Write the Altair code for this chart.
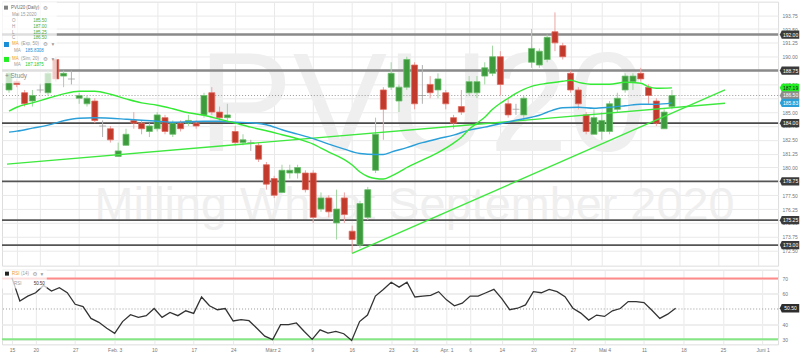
import altair as alt
import pandas as pd
import numpy as np

# ---------------- data ----------------
candle_idx = list(range(-1, 85))  # trading-day index, 0 = Jan 15 2020
opens = [187.0, 187.75, 186.75, 186.0, 187.0, 186.75, 189.75, 188.25, 188.0, 186.25,
         185.75, 186.0, 183.75, 183.5, 181.0, 182.0, 184.25, 184.0, 183.25, 183.5,
         184.5, 183.0, 184.0, 184.0, 184.0, 184.75, 186.75, 185.0, 184.5, 183.25,
         182.25, 182.25, 182.0, 180.25, 179.0, 177.75, 179.5, 179.5, 179.5, 179.5,
         176.25, 177.25, 175.0, 177.25, 174.25, 173.0, 175.5, 179.75, 187.0, 187.25,
         186.0, 187.25, 189.25, 186.5, 187.5, 187.0, 186.75, 184.5, 185.5, 186.75,
         186.75, 188.25, 188.5, 190.0, 185.75, 185.25, 184.75, 189.5, 189.25, 189.75,
         192.25, 191.0, 188.5, 187.0, 184.75, 183.0, 183.25, 183.25, 185.25, 187.0,
         187.75, 188.5, 187.25, 186.0, 183.5, 185.5]
highs = [188.75, 188.0, 187.0, 187.0, 187.5, 188.75, 190.0, 188.75, 188.75, 186.75,
         186.5, 186.25, 184.25, 183.75, 182.25, 183.5, 185.0, 184.25, 184.0, 185.0,
         184.75, 184.25, 184.25, 184.75, 184.25, 186.75, 187.25, 185.5, 185.75, 183.75,
         183.0, 182.5, 182.25, 180.5, 179.25, 180.25, 180.25, 180.25, 179.75, 179.75,
         177.75, 177.5, 178.0, 177.75, 174.75, 177.0, 178.25, 184.5, 187.25, 189.5,
         187.5, 190.0, 189.5, 189.25, 188.25, 188.5, 187.0, 184.75, 187.0, 188.25,
         188.25, 189.5, 191.0, 190.5, 186.25, 185.75, 186.5, 192.5, 190.75, 192.0,
         194.0, 191.25, 188.75, 187.25, 185.0, 185.25, 185.0, 186.0, 186.75, 188.5,
         188.5, 189.0, 187.5, 186.25, 185.25, 187.0]
lows = [186.75, 187.25, 185.5, 185.5, 186.75, 186.5, 187.75, 187.25, 187.5, 185.75,
        185.5, 184.0, 182.75, 182.25, 181.0, 182.0, 183.5, 183.0, 182.75, 183.25,
        183.0, 182.75, 183.25, 183.75, 183.5, 184.5, 184.75, 184.25, 184.25, 182.0,
        182.0, 181.5, 180.5, 178.0, 177.25, 177.75, 179.0, 179.0, 177.75, 175.0,
        176.0, 175.5, 173.5, 175.0, 172.25, 172.75, 175.25, 179.5, 182.5, 187.0,
        185.0, 187.0, 185.25, 185.75, 186.25, 186.25, 185.25, 183.5, 184.75, 186.5,
        186.25, 187.5, 188.25, 186.5, 184.5, 184.75, 184.25, 189.0, 189.0, 189.5,
        190.5, 189.75, 186.75, 185.25, 183.0, 183.0, 182.5, 183.0, 185.0, 186.75,
        187.0, 187.75, 185.75, 183.75, 183.5, 185.25]
closes = [188.5, 187.5, 185.75, 186.5, 187.0, 188.5, 188.0, 188.5, 188.0, 186.5,
          186.25, 184.25, 183.75, 182.5, 181.5, 183.0, 184.0, 183.5, 183.75, 184.75,
          183.25, 184.0, 183.5, 184.25, 183.75, 186.5, 185.0, 184.5, 184.75, 182.25,
          182.5, 182.25, 180.75, 178.5, 177.5, 179.75, 179.75, 180.0, 178.0, 175.5,
          177.25, 176.0, 176.25, 175.75, 173.5, 176.75, 178.0, 183.0, 185.25, 188.5,
          187.25, 189.75, 185.75, 186.5, 186.75, 188.0, 185.75, 184.0, 185.0, 187.75,
          187.75, 189.0, 190.0, 187.5, 184.75, 185.25, 186.25, 190.75, 190.5, 191.75,
          191.25, 190.0, 187.0, 185.75, 183.25, 184.5, 184.25, 185.75, 186.25, 188.25,
          188.25, 188.0, 186.5, 184.0, 185.0, 186.5]

sma_idx = [-1, 0, 2, 4, 6, 8, 10, 12, 14, 16, 18, 20, 22, 24, 26, 28, 30, 32, 34, 36,
           38, 39, 40, 41, 42, 43, 44, 45, 46, 47, 48, 49, 50, 52, 54, 56, 57, 58, 59, 60,
           61, 62, 63, 64, 65, 66, 68, 70, 71, 72, 74, 76, 78, 80, 81, 82, 84]
sma_vals = [185.08, 185.44, 185.84, 186.25, 186.65, 186.88, 186.88, 186.61, 186.20, 185.84,
            185.62, 185.30, 184.94, 184.72, 184.36, 184.00, 183.64, 183.32, 182.96, 182.60,
            182.11, 181.75, 181.39, 181.08, 180.72, 180.22, 179.59, 179.19, 179.01, 178.96,
            179.23, 179.59, 180.00, 180.67, 181.35, 182.20, 182.74, 183.46, 184.00, 184.54,
            185.26, 185.80, 186.25, 186.70, 187.06, 187.33, 187.60, 187.78, 187.87, 187.69,
            187.51, 187.51, 187.69, 187.60, 187.28, 187.15, 187.19]

ema_idx = [-1, 0, 2, 4, 6, 8, 10, 12, 14, 16, 18, 20, 22, 24, 26, 28, 30, 32, 34, 36,
           38, 40, 42, 44, 46, 47, 48, 50, 52, 54, 56, 58, 60, 62, 64, 66, 67, 68, 70, 72,
           74, 76, 78, 80, 82, 84]
ema_vals = [183.19, 183.28, 183.55, 183.82, 184.22, 184.45, 184.49, 184.45, 184.36, 184.27,
            184.18, 184.09, 184.13, 184.18, 184.18, 184.09, 184.04, 183.86, 183.41, 183.01,
            182.60, 182.11, 181.66, 181.26, 181.17, 181.17, 181.39, 181.80, 182.24, 182.60,
            182.92, 183.37, 183.64, 183.95, 184.27, 184.54, 184.72, 184.99, 185.39, 185.44,
            185.35, 185.44, 185.57, 185.71, 185.70, 185.83]

trend1_idx = [-1.26, 90.8]
trend1_vals = [180.31, 185.8]
trend2_idx = [43, 90.8]
trend2_vals = [172.25, 187.0]

levels = [192.00, 188.75, 184.00, 178.75, 175.25, 173.00]
last_close = 186.50
sma_last = 187.19
ema_last = 185.83

rsi_idx = list(range(0, 85))
rsi_vals = [70.5, 55.3, 58.5, 60.7, 65.5, 61.8, 64.0, 60.7, 53.1, 51.6,
            43.8, 41.2, 37.3, 34.0, 41.7, 46.2, 44.5, 45.6, 50.3, 44.5,
            47.7, 45.6, 48.8, 47.1, 57.9, 52.1, 49.5, 50.3, 42.1, 43.0,
            42.3, 37.3, 32.1, 29.8, 39.7, 39.7, 40.8, 35.2, 30.0, 36.3,
            34.1, 35.2, 33.7, 29.3, 41.7, 46.0, 58.5, 62.9, 67.6, 64.4,
            67.6, 57.9, 58.5, 59.0, 61.4, 56.0, 52.1, 53.8, 58.5, 58.5,
            60.7, 62.9, 56.8, 49.5, 50.5, 52.7, 61.4, 60.7, 62.9, 61.4,
            58.1, 50.5, 47.3, 42.7, 46.0, 45.1, 48.8, 50.3, 54.9, 54.9,
            54.2, 49.2, 43.8, 46.6, 50.5]
rsi_last = 50.50

tick_idx = [0, 3, 8, 13, 18, 23, 28, 33, 38, 43, 48, 51, 55, 58, 62, 66, 71, 75, 80, 85, 90, 95]
tick_text = ['15', '20', '27', 'Feb. 3', '10', '17', '24', 'März 2', '9', '16', '23', '26',
             'Apr. 1', '6', '14', '20', '27', 'Mai 4', '11', '18', '25', 'Juni 1']
price_ticks = [172.50, 173.75, 175.00, 176.25, 177.50, 178.75, 180.00, 181.25, 182.50,
               183.75, 185.00, 186.25, 187.50, 188.75, 190.00, 191.25, 192.50, 193.75]
rsi_ticks = [30, 40, 60, 70]

# ---------------- layout / style ----------------
W = 779
H_MAIN = 265
H_RSI = 75
XDOM = [-1.261, 96.97]
FONT = 'Liberation Sans'
GRID = '#e9e9e9'
LBL = '#777777'
AX_FS = 5.0
LG_FS = 4.5
UP, DOWN, FLAT = '#3d9a3d', '#c23a2c', '#9a9a9a'
TAGX = W + 11.5
TAG_SHAPE = 'M-1,0L-0.8,-0.43L1,-0.43L1,0.43L-0.8,0.43Z'

xscale = alt.Scale(domain=XDOM, nice=False, zero=False)
yscale_main = alt.Scale(domain=[171.14, 194.97], nice=False, zero=False)
yscale_rsi = alt.Scale(domain=[26.7, 75.9], nice=False, zero=False)

label_expr = ('[' + ','.join("'%s'" % t for t in tick_text) + '][indexof([' +
              ','.join(str(v) for v in tick_idx) + '], datum.value)]')

ax_x_main = alt.Axis(values=tick_idx, grid=True, gridColor=GRID, labels=False, ticks=False,
                     domain=False, title=None)
ax_x_rsi = alt.Axis(values=tick_idx, grid=True, gridColor=GRID, ticks=False, domain=False,
                    title=None, labelExpr=label_expr, labelFontSize=AX_FS, labelColor=LBL,
                    labelFont=FONT, labelPadding=3, labelOverlap=False, labelFlush=False)
ax_y_main = alt.Axis(orient='right', values=price_ticks, format='.2f', grid=True, gridColor=GRID,
                     ticks=False, domain=False, title=None, labelFontSize=AX_FS, labelColor=LBL,
                     labelFont=FONT, labelPadding=4, labelFlush=False)
ax_y_rsi = alt.Axis(orient='right', values=rsi_ticks, format='d', grid=True, gridColor='#eeeeee',
                    gridWidth=2, ticks=False, domain=False, title=None, labelFontSize=AX_FS,
                    labelColor=LBL, labelFont=FONT, labelPadding=4, labelFlush=False)


def XM(f):
    return alt.X(f + ':Q', scale=xscale, axis=ax_x_main)


def XR(f):
    return alt.X(f + ':Q', scale=xscale, axis=ax_x_rsi)


def YM(f):
    return alt.Y(f + ':Q', scale=yscale_main, axis=ax_y_main)


def YR(f):
    return alt.Y(f + ':Q', scale=yscale_rsi, axis=ax_y_rsi)


one = pd.DataFrame({'k': [0]})


def txt(s, x, y, color, size=LG_FS, align='left', font=FONT):
    return alt.Chart(one).mark_text(text=s, fontSize=size, color=color, align=align,
                                    baseline='middle', font=font).encode(
        x=alt.value(x), y=alt.value(y))


def sq(x, y, color, size=16):
    return alt.Chart(one).mark_square(size=size, color=color, opacity=1).encode(
        x=alt.value(x), y=alt.value(y))


def box(x0, x1, y0, y1, color='white', opacity=0.72):
    return alt.Chart(one).mark_rect(fill=color, opacity=opacity).encode(
        x=alt.value(x0), x2=alt.value(x1), y=alt.value(y0), y2=alt.value(y1))


# ---------------- tables ----------------
cdf = pd.DataFrame({'i': candle_idx, 'o': opens, 'h': highs, 'l': lows, 'c': closes})
cdf['dir'] = np.where(cdf.c > cdf.o, 'up', np.where(cdf.c < cdf.o, 'down', 'flat'))

sma_df = pd.DataFrame({'i': sma_idx, 'v': sma_vals})
ema_df = pd.DataFrame({'i': ema_idx, 'v': ema_vals})
trend_df = pd.DataFrame({'i': trend1_idx + trend2_idx, 'v': trend1_vals + trend2_vals,
                         's': ['a', 'a', 'b', 'b']})
level_col = ['#8a8a8a', '#8a8a8a', '#4a4a4a', '#555555', '#555555', '#555555']
level_w = [2.5, 2.5, 1.8, 1.8, 1.8, 1.8]
lev_df = pd.DataFrame({'p': levels, 'col': level_col, 'w': level_w})

tag_vals = levels + [sma_last, last_close, ema_last]
tag_bg = ['#3a3a3a'] * 6 + ['#22ee22', '#8c8c8c', '#2a9fd8']
tag_fg = ['white'] * 6 + ['#1a1a1a', 'white', 'white']
tag_df = pd.DataFrame({'p': tag_vals, 'bg': tag_bg, 'fg': tag_fg,
                       'lab': ['%.2f' % v for v in tag_vals]})

rsi_df = pd.DataFrame({'i': rsi_idx, 'r': rsi_vals})

wick_scale = alt.Scale(domain=['up', 'down', 'flat'], range=['#9fd49f', '#eba3a3', '#b0b0b0'])
fill_scale = alt.Scale(domain=['up', 'down', 'flat'], range=[UP, DOWN, FLAT])
stroke_scale = alt.Scale(domain=['up', 'down', 'flat'], range=['#6cbf6c', '#e06a5e', FLAT])

# ---------------- main panel ----------------
wm1 = alt.Chart(one).mark_text(text='PVU20', fontSize=142, color='#efefef', align='center',
                               baseline='alphabetic', font=FONT).encode(
    x=alt.value(422), y=alt.value(150))
wm2 = alt.Chart(one).mark_text(text='Milling Wheat September 2020', fontSize=47, color='#efefef',
                               align='center', baseline='alphabetic', font=FONT).encode(
    x=alt.value(414), y=alt.value(219))

lev = alt.Chart(lev_df).mark_rule().encode(
    y=YM('p'), color=alt.Color('col:N', scale=None), strokeWidth=alt.StrokeWidth('w:Q', scale=None))
lastline = alt.Chart(pd.DataFrame({'p': [last_close]})).mark_rule(
    color='#9a9a9a', strokeDash=[1, 2], strokeWidth=1).encode(y=YM('p'))

wicks = alt.Chart(cdf).mark_rule(strokeWidth=1, clip=True).encode(
    x=XM('i'), y=YM('l'), y2='h', color=alt.Color('dir:N', scale=wick_scale, legend=None))
bodies = alt.Chart(cdf).transform_filter("datum.dir != 'flat'").mark_bar(
    size=6, strokeWidth=0.8, clip=True).encode(
    x=XM('i'), y=YM('o'), y2='c',
    fill=alt.Fill('dir:N', scale=fill_scale, legend=None),
    stroke=alt.Stroke('dir:N', scale=stroke_scale, legend=None))
dojis = alt.Chart(cdf).transform_filter("datum.dir == 'flat'").mark_tick(
    orient='horizontal', size=7, thickness=1, color='#999999', clip=True).encode(
    x=XM('i'), y=YM('o'))

trend = alt.Chart(trend_df).mark_line(color='#3ee83e', strokeWidth=1.4, clip=True).encode(
    x=XM('i'), y=YM('v'), detail='s:N')
ema = alt.Chart(ema_df).mark_line(color='#2a9fd8', strokeWidth=1.4, clip=True,
                                  interpolate='monotone').encode(x=XM('i'), y=YM('v'))
sma = alt.Chart(sma_df).mark_line(color='#35ea35', strokeWidth=1.4, clip=True,
                                  interpolate='monotone').encode(x=XM('i'), y=YM('v'))

tags = alt.Chart(tag_df).mark_point(shape=TAG_SHAPE, filled=True, size=380, opacity=1).encode(
    x=alt.value(TAGX), y=YM('p'), color=alt.Color('bg:N', scale=None))
tag_txt = alt.Chart(tag_df).mark_text(fontSize=AX_FS, font=FONT, align='center',
                                      baseline='middle', dx=1).encode(
    x=alt.value(TAGX), y=YM('p'), text='lab:N', color=alt.Color('fg:N', scale=None))

legend_main = [
    box(0, 55, 0, 82),
    sq(4, 6, '#808080'),
    txt('PVU20 (Daily)', 9, 6, '#666666'),
    txt('⚙', 43.5, 6, '#9a9a9a', size=5.5, align='center', font='DejaVu Sans'),
    txt('Mai 15 2020', 10, 13, '#9a9a9a'),
    txt('O', 10, 19, '#9a9a9a'), txt('185.50', 45, 19, '#3fae3f', align='right'),
    txt('H', 10, 25, '#9a9a9a'), txt('187.00', 45, 25, '#3fae3f', align='right'),
    txt('L', 10, 31, '#9a9a9a'), txt('185.25', 45, 31, '#3fae3f', align='right'),
    txt('C', 10, 36, '#9a9a9a'), txt('186.50', 45, 36, '#3fae3f', align='right'),
    sq(4.5, 43, '#1a8fd8', size=25),
    txt('MA', 10, 43, '#f0a030'), txt('(Exp, 50)', 19, 43, '#9a9a9a'),
    txt('⚙', 43.5, 43, '#9a9a9a', size=5.5, align='center', font='DejaVu Sans'),
    txt('▾', 51, 43, '#9a9a9a', size=5.5, align='center', font='DejaVu Sans'),
    txt('MA', 12, 50, '#9a9a9a'), txt('185.8308', 42, 50, '#1a8fd8', align='right'),
    sq(4.5, 58, '#22ee22', size=25),
    txt('MA', 10, 58, '#f0a030'), txt('(Sim, 20)', 19, 58, '#9a9a9a'),
    txt('⚙', 43.5, 58, '#9a9a9a', size=5.5, align='center', font='DejaVu Sans'),
    txt('▾', 51, 58, '#9a9a9a', size=5.5, align='center', font='DejaVu Sans'),
    txt('MA', 12, 64, '#9a9a9a'), txt('187.1875', 42, 64, '#22cc22', align='right'),
    txt('+ Study', 3, 75, '#8a8a8a', size=6.5),
]

main = alt.layer(wm1, wm2, lev, lastline, wicks, bodies, dojis, trend, ema, sma,
                 tags, tag_txt, *legend_main).properties(width=W, height=H_MAIN)

# ---------------- RSI panel ----------------
r70 = alt.Chart(pd.DataFrame({'r': [70]})).mark_rule(color='#ff8a8a', strokeWidth=2).encode(y=YR('r'))
r30 = alt.Chart(pd.DataFrame({'r': [30]})).mark_rule(color='#86e686', strokeWidth=2).encode(y=YR('r'))
r50 = alt.Chart(pd.DataFrame({'r': [50]})).mark_rule(color='#9a9a9a', strokeDash=[1, 2],
                                                      strokeWidth=1).encode(y=YR('r'))
rline = alt.Chart(rsi_df).mark_line(color='#333333', strokeWidth=1.3, clip=True).encode(
    x=XR('i'), y=YR('r'))
rtag_df = pd.DataFrame({'r': [rsi_last], 'lab': ['%.2f' % rsi_last]})
rtag = alt.Chart(rtag_df).mark_point(shape=TAG_SHAPE, filled=True, size=380, opacity=1,
                                     color='#2e2e2e').encode(x=alt.value(TAGX), y=YR('r'))
rtag_txt = alt.Chart(rtag_df).mark_text(fontSize=AX_FS, font=FONT, align='center',
                                        baseline='middle', dx=1, color='white').encode(
    x=alt.value(TAGX), y=YR('r'), text='lab:N')

legend_rsi = [
    box(0, 45, 0, 19),
    sq(5, 4, '#222222'),
    txt('RSI', 10, 4, '#f0a030'), txt('(14)', 19, 4, '#9a9a9a'),
    txt('⚙', 33, 4, '#9a9a9a', size=5.5, align='center', font='DejaVu Sans'),
    txt('▾', 40, 4, '#9a9a9a', size=5.5, align='center', font='DejaVu Sans'),
    txt('RSI', 12, 14, '#9a9a9a'), txt('50.50', 43, 14, '#333333', align='right'),
]

rsi = alt.layer(r70, r30, r50, rline, rtag, rtag_txt, *legend_rsi).properties(
    width=W, height=H_RSI)

chart = alt.vconcat(main, rsi, spacing=2).properties(padding=0).configure_view(
    strokeWidth=0).configure(font=FONT)

chart.save('out.html', embed_options={'renderer': 'svg', 'actions': False})
